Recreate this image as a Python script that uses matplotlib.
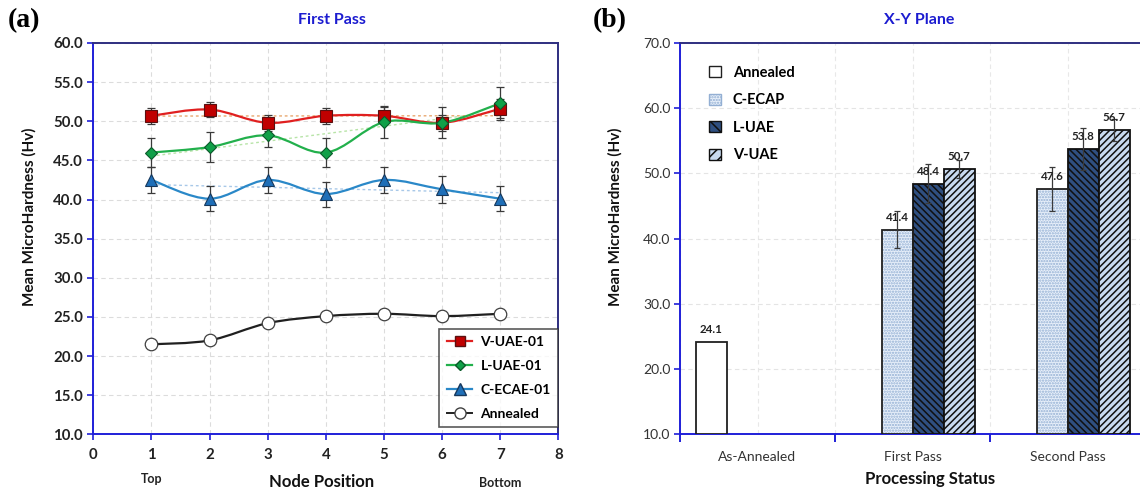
import numpy as np
import matplotlib
matplotlib.use("Agg")
import matplotlib.pyplot as plt
from matplotlib.path import Path
from matplotlib.patches import PathPatch, Patch
from matplotlib.lines import Line2D
import matplotlib.transforms as mtransforms

# ---------------- data: panel (a) ----------------
node_pos = [1, 2, 3, 4, 5, 6, 7]
v_uae = [50.7, 51.5, 49.8, 50.7, 50.7, 49.8, 51.6]
v_uae_err = [1.0, 1.0, 1.0, 1.0, 1.1, 1.0, 1.2]
l_uae = [46.0, 46.7, 48.2, 46.0, 49.9, 49.8, 52.3]
l_uae_err = [1.85, 1.95, 1.5, 1.85, 2.0, 2.0, 2.1]
c_ecae = [42.5, 40.1, 42.5, 40.7, 42.5, 41.3, 40.1]
c_ecae_err = [1.7, 1.6, 1.7, 1.6, 1.7, 1.7, 1.6]
annealed_line = [21.5, 22.0, 24.2, 25.1, 25.4, 25.1, 25.4]
series_labels = ["V-UAE-01", "L-UAE-01", "C-ECAE-01", "Annealed"]

# ---------------- data: panel (b) ----------------
categories = ["As-Annealed", "First Pass", "Second Pass"]
annealed_bar = [24.1]
c_ecap = [41.4, 47.6]
c_ecap_err = [2.9, 3.4]
l_uae_bar = [48.4, 53.8]
l_uae_bar_err = [3.0, 3.2]
v_uae_bar = [50.7, 56.7]
v_uae_bar_err = [1.4, 1.7]
bar_labels = ["Annealed", "C-ECAP", "L-UAE", "V-UAE"]

FONT = ["Lato", "DejaVu Sans"]
plt.rcParams["font.family"] = FONT
plt.rcParams["hatch.linewidth"] = 1.1

W, H = 1140, 492
fig = plt.figure(figsize=(W / 100, H / 100), dpi=100)

SPINE_A = "#1f1fd8"
SPINE_B = "#2e2e80"
TITLE_C = "#1c1cd0"


def smooth_path(xs, ys):
    """Excel-like smoothed line as cubic Bezier segments through the points."""
    pts = np.column_stack([xs, ys]).astype(float)
    n = len(pts)
    verts = [pts[0]]
    codes = [Path.MOVETO]
    for i in range(n - 1):
        p0 = pts[i - 1] if i > 0 else pts[i]
        p1 = pts[i]
        p2 = pts[i + 1]
        p3 = pts[i + 2] if i + 2 < n else pts[i + 1]
        c1 = p1 + (p2 - p0) / 6.0
        c2 = p2 - (p3 - p1) / 6.0
        verts += [c1, c2, p2]
        codes += [Path.CURVE4] * 3
    return Path(verts, codes)


# ================= panel (a) =================
axA = fig.add_axes([93.3 / W, 1 - 434.3 / H, 465 / W, 391.3 / H])
axA.set_xlim(0, 8)
axA.set_ylim(10, 60)
axA.set_xticks(range(0, 9))
axA.set_yticks(np.arange(10, 60.1, 5))
axA.set_yticklabels([f"{v:.1f}" for v in np.arange(10, 60.1, 5)])
for lab in axA.get_xticklabels() + axA.get_yticklabels():
    lab.set_fontweight("bold")
    lab.set_fontsize(10.8)
axA.tick_params(axis="both", direction="out", length=4, width=1.2, colors=SPINE_A,
                labelcolor="#222222")
axA.tick_params(axis="x", pad=6)
axA.grid(True, linestyle=(0, (4, 3)), color="#dcdcdc", linewidth=0.8)
axA.set_axisbelow(True)
axA.spines["left"].set_color(SPINE_A)
axA.spines["bottom"].set_color(SPINE_A)
axA.spines["top"].set_color(SPINE_B)
axA.spines["right"].set_color(SPINE_B)
for s in axA.spines.values():
    s.set_linewidth(1.4)

specs = [
    (v_uae, v_uae_err, "#e02020", "s", "#c00000", "#5a1010", 8.5, "#e8a870"),
    (l_uae, l_uae_err, "#22b04c", "D", "#10a048", "#0a5a2a", 6.5, "#b8e4a8"),
    (c_ecae, c_ecae_err, "#2a88c8", "^", "#1f6fb8", "#16385c", 9, "#a8c8e8"),
]
handles = []
for (vals, errs, lc, mk, fc, ec, ms, tc), lab in zip(specs, series_labels[:3]):
    # linear trendline
    k, b = np.polyfit(node_pos, vals, 1)
    xt = np.array([node_pos[0], node_pos[-1]])
    axA.plot(xt, k * xt + b, linestyle=(0, (2, 2)), color=tc, linewidth=1.0, zorder=2)
    axA.add_patch(PathPatch(smooth_path(node_pos, vals), fill=False, edgecolor=lc,
                            linewidth=1.6, zorder=3))
    axA.errorbar(node_pos, vals, yerr=errs, fmt="none", ecolor="#3a3a3a",
                 elinewidth=0.9, capsize=2.8, capthick=0.9, zorder=4)
    axA.plot(node_pos, vals, linestyle="none", marker=mk, markersize=ms,
             markerfacecolor=fc, markeredgecolor=ec, markeredgewidth=0.8, zorder=5)
    handles.append(Line2D([], [], color=lc, linewidth=1.6, marker=mk, markersize=ms - 1,
                          markerfacecolor=fc, markeredgecolor=ec, label=lab))

axA.add_patch(PathPatch(smooth_path(node_pos, annealed_line), fill=False,
                        edgecolor="#202020", linewidth=1.6, zorder=3))
axA.plot(node_pos, annealed_line, linestyle="none", marker="o", markersize=9,
         markerfacecolor="white", markeredgecolor="#404040", markeredgewidth=0.9, zorder=5)
handles.append(Line2D([], [], color="#202020", linewidth=1.4, marker="o", markersize=8,
                      markerfacecolor="white", markeredgecolor="#404040",
                      label=series_labels[3]))

legA = axA.legend(handles=handles, loc="lower right", bbox_to_anchor=(1.0, 0.018),
                  borderaxespad=0.0, frameon=True, fancybox=False, edgecolor="#303030",
                  prop={"family": FONT, "weight": "bold", "size": 10},
                  handlelength=1.8, labelspacing=0.85, borderpad=0.55, handletextpad=0.6)
legA.get_frame().set_linewidth(1.2)

blendA = mtransforms.blended_transform_factory(axA.transData, axA.transAxes)
axA.text(node_pos[0], -0.113, "Top", transform=blendA, ha="center", va="center",
         fontsize=9, fontweight="bold", color="#222222")
axA.text(node_pos[-1], -0.125, "Bottom", transform=blendA, ha="center", va="center",
         fontsize=9, fontweight="bold", color="#222222")
axA.set_xlabel("Node Position", fontsize=12, fontweight="bold", color="#111111")
axA.xaxis.set_label_coords((322 - 93.3) / 465, (434.3 - 474) / 391.3)
axA.set_ylabel("Mean MicroHardness (Hv)", fontsize=11, fontweight="bold", color="#111111")
axA.yaxis.set_label_coords((37 - 93.3) / 465, (434.3 - 217) / 391.3)
fig.text(332 / W, 1 - 20 / H, "First Pass", ha="center", va="center", fontsize=11.5,
         fontweight="bold", color=TITLE_C)
fig.text(8 / W, 1 - 21 / H, "(a)", ha="left", va="center", fontsize=20,
         fontweight="bold", family="Liberation Serif")

# ================= panel (b) =================
axB = fig.add_axes([680 / W, 1 - 434.3 / H, 465 / W, 391.3 / H])
xc = np.arange(len(categories))
bw = 0.2
axB.set_xlim(-0.5, 2.5)
axB.set_ylim(10, 70)
axB.set_yticks(np.arange(10, 70.1, 10))
axB.set_yticklabels([f"{v:.1f}" for v in np.arange(10, 70.1, 10)])
axB.set_xticks([-0.5, 0.5, 1.5, 2.5])
axB.set_xticklabels([])
axB.set_xticks(xc, minor=True)
axB.set_xticklabels(categories, minor=True)
axB.tick_params(axis="x", which="minor", length=0, pad=12, labelsize=10, labelcolor="#333333")
axB.tick_params(axis="x", which="major", length=6, width=1.4, colors=SPINE_A, direction="out")
axB.tick_params(axis="y", length=4, width=1.2, colors=SPINE_A, labelcolor="#333333",
                labelsize=10, direction="out", pad=3)
axB.grid(True, which="major", axis="y", linestyle=(0, (4, 3)), color="#e4e4e4", linewidth=0.8)
axB.grid(True, which="minor", axis="x", linestyle=(0, (4, 3)), color="#e8e8e8", linewidth=0.8)
axB.grid(True, which="major", axis="x", linestyle=(0, (4, 3)), color="#e8e8e8", linewidth=0.8)
axB.set_axisbelow(True)
for k in ["left", "bottom"]:
    axB.spines[k].set_color(SPINE_A)
    axB.spines[k].set_linewidth(1.4)
axB.spines["top"].set_color(SPINE_B)
axB.spines["top"].set_linewidth(1.4)
axB.spines["right"].set_visible(False)

offs = [-1.5 * bw, -0.5 * bw, 0.5 * bw, 1.5 * bw]
edge = "#202020"


def labels_on(xs, vals):
    for x, v in zip(xs, vals):
        axB.annotate(f"{v:.1f}", (x, v), xytext=(0, 9), textcoords="offset points",
                     ha="center", va="center", fontsize=8.3, fontweight="bold",
                     color="#222222", zorder=6)


# Annealed
xa = xc[:1] + offs[0]
axB.bar(xa, [v - 10 for v in annealed_bar], bottom=10, width=bw, color="white",
        edgecolor=edge, linewidth=1.3, zorder=3)
labels_on(xa, annealed_bar)

# C-ECAP (stippled)
xcp = xc[1:] + offs[1]
axB.bar(xcp, [v - 10 for v in c_ecap], bottom=10, width=bw, color="#e8f0fa",
        edgecolor="#93afd3", hatch="......", linewidth=0, zorder=3)
axB.bar(xcp, [v - 10 for v in c_ecap], bottom=10, width=bw, fill=False,
        edgecolor=edge, linewidth=1.3, zorder=3.5)
# L-UAE
xl = xc[1:] + offs[2]
axB.bar(xl, [v - 10 for v in l_uae_bar], bottom=10, width=bw, color="#2f4f80",
        edgecolor="#101010", hatch="\\\\\\\\\\", linewidth=1.3, zorder=3)
# V-UAE
xv = xc[1:] + offs[3]
axB.bar(xv, [v - 10 for v in v_uae_bar], bottom=10, width=bw, color="#c8daf0",
        edgecolor="#101010", hatch="/////", linewidth=1.3, zorder=3)

for xs, vals, errs in [(xcp, c_ecap, c_ecap_err), (xl, l_uae_bar, l_uae_bar_err),
                       (xv, v_uae_bar, v_uae_bar_err)]:
    axB.errorbar(xs, vals, yerr=errs, fmt="none", ecolor="#3a3a3a", elinewidth=0.9,
                 capsize=2.5, capthick=0.9, zorder=5)
    labels_on(xs, vals)

hB = [
    Patch(facecolor="white", edgecolor=edge, linewidth=1.0, label=bar_labels[0]),
    Patch(facecolor="#e8f0fa", edgecolor="#93afd3", hatch="......", linewidth=1.0,
          label=bar_labels[1]),
    Patch(facecolor="#2f4f80", edgecolor="#101010", hatch="\\\\\\", linewidth=1.0,
          label=bar_labels[2]),
    Patch(facecolor="#c8daf0", edgecolor="#101010", hatch="///", linewidth=1.0,
          label=bar_labels[3]),
]
legB = axB.legend(handles=hB, loc="upper left", bbox_to_anchor=(0.035, 0.975),
                  frameon=False, prop={"family": FONT, "weight": "bold", "size": 10.5},
                  handlelength=0.8, handleheight=0.8, labelspacing=0.92, handletextpad=0.8)

axB.set_xlabel("Processing Status", fontsize=12, fontweight="bold", color="#111111")
axB.xaxis.set_label_coords((930 - 680) / 465, (434.3 - 471) / 391.3)
axB.set_ylabel("Mean MicroHardness (Hv)", fontsize=11, fontweight="bold", color="#111111")
axB.yaxis.set_label_coords((623 - 680) / 465, (434.3 - 217) / 391.3)
fig.text(919 / W, 1 - 20 / H, "X-Y Plane", ha="center", va="center", fontsize=11.5,
         fontweight="bold", color=TITLE_C)
fig.text(593 / W, 1 - 21 / H, "(b)", ha="left", va="center", fontsize=20,
         fontweight="bold", family="Liberation Serif")

fig.savefig("out.png", dpi=100)
